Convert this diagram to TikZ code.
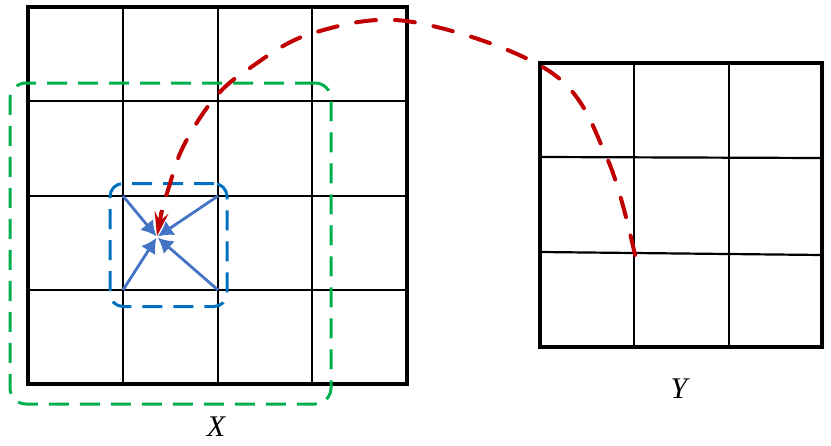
\documentclass[tikz,border=0pt]{standalone}
\usepackage{fontspec}
\setmainfont{Liberation Serif}
\usetikzlibrary{arrows.meta}
\definecolor{gridred}{HTML}{C00000}
\definecolor{gridgreen}{HTML}{00B050}
\definecolor{boxblue}{HTML}{0070C0}
\definecolor{arrblue}{HTML}{4472C4}
\tikzset{
  outer/.style={line width=4.5pt},
  inner/.style={line width=2.2pt},
  greenbox/.style={draw=gridgreen, line width=3pt, dash pattern=on 20pt off 11pt, rounded corners=16pt},
  bluebox/.style={draw=boxblue, line width=3pt, dash pattern=on 20pt off 11pt, rounded corners=13pt},
  bluearrow/.style={draw=arrblue, line width=2.8pt, -{Latex[length=15pt,width=17pt]}, shorten >=1pt},
  redarc/.style={draw=gridred, line width=4pt, line cap=round, dash pattern=on 20pt off 19pt},
  lbl/.style={font=\fontsize{30}{32}\selectfont\itshape, inner sep=0pt}
}
\begin{document}
\begin{tikzpicture}[x=1pt,y=-1pt]
\useasboundingbox (0,0) rectangle (831,445);
% left grid
\foreach \v in {123,218,312} \draw[inner] (\v,7) -- (\v,384);
\foreach \v in {101,196,290} \draw[inner] (28,\v) -- (407,\v);
\draw[outer] (28,7) rectangle (407,384);
% right grid
\draw[inner] (634,63) -- (634,347);
\draw[inner] (729,63) -- (729,347);
\draw[inner] (540,157) -- (822,158);
\draw[inner] (540,252) -- (822,255);
\draw[outer] (540,63) rectangle (822,347);
% boxes
\node[greenbox, minimum width=321pt, minimum height=321pt, inner sep=0pt] (green) at (170.5,243.5) {};
\node[bluebox, minimum width=117pt, minimum height=123pt, inner sep=0pt] (blue) at (168.5,245) {};
% blue arrows
\coordinate (c) at (157,237);
\coordinate (tl) at (123,196);
\coordinate (tr) at (218,196);
\coordinate (bl) at (123,290);
\coordinate (br) at (218,290);
\foreach \p in {tl,tr,bl,br} \draw[bluearrow] (\p) -- (c);
% red arc
\coordinate (ys) at (635,255);
\coordinate (xe) at (157,236);
\draw[redarc] plot[smooth, tension=0.6] coordinates {(ys) (607,158) (552,73) (413,22) (313,33) (247,70) (213,100) (183,147) (168,190) (161,214)};
\draw[draw=gridred, line width=4pt, -{Stealth[length=24pt,width=14pt,inset=9pt]}] (162,210) -- (xe);
% labels
\node[lbl] (X) at (216,427) {X};
\node[lbl] (Y) at (679,389) {Y};
\end{tikzpicture}
\end{document}
